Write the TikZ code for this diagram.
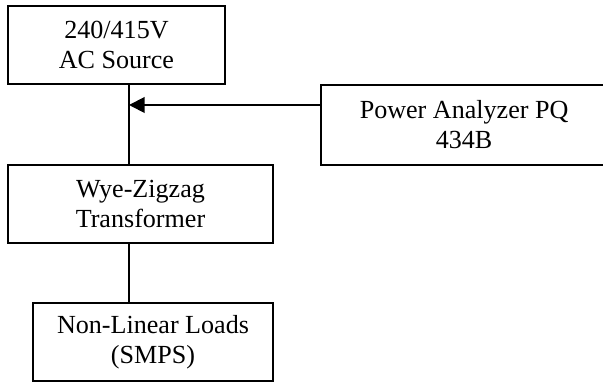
\documentclass[tikz,border=0pt]{standalone}
\usepackage{fontspec}
\setmainfont{Liberation Serif}
\usetikzlibrary{positioning}
\usetikzlibrary{arrows.meta}

\begin{document}
\begin{tikzpicture}[x=0.46pt, y=-0.46pt,
    block/.style={rectangle, draw=black, line width=0.9pt, align=center, inner sep=0pt, outer sep=0pt, font=\fontsize{12}{13.8}\selectfont}]
    \useasboundingbox (0,0) rectangle (603,383);
    \node [block, minimum width=99.8pt, minimum height=35.9pt, anchor=north west] (acs) at (8,6) {240/415V\\AC Source};
    \node [block, minimum width=121.9pt, minimum height=35.9pt, below=37.3pt of acs.south west, anchor=north west] (wzt) {Wye-Zigzag\\Transformer};
    \node [block, minimum width=110.4pt, minimum height=35.9pt, below=27.6pt of wzt.south west, anchor=north west, xshift=11.5pt] (nll) {Non-Linear Loads\\(SMPS)};
    \node [block, minimum width=131.6pt, minimum height=36.8pt, right=44.2pt of acs.north east, anchor=north west, yshift=-36.3pt] (pqa) {Power Analyzer PQ\\434B};
    \coordinate (tap) at (129,105);

    \draw [line width=0.9pt] (tap |- acs.south) -- (tap |- wzt.north);
    \draw [line width=0.9pt, -{Triangle[length=7.2pt, width=7.2pt]}] (pqa.west |- tap) -- (tap);
    \draw [line width=0.9pt] (tap |- wzt.south) -- (tap |- nll.north);
\end{tikzpicture}
\end{document}
